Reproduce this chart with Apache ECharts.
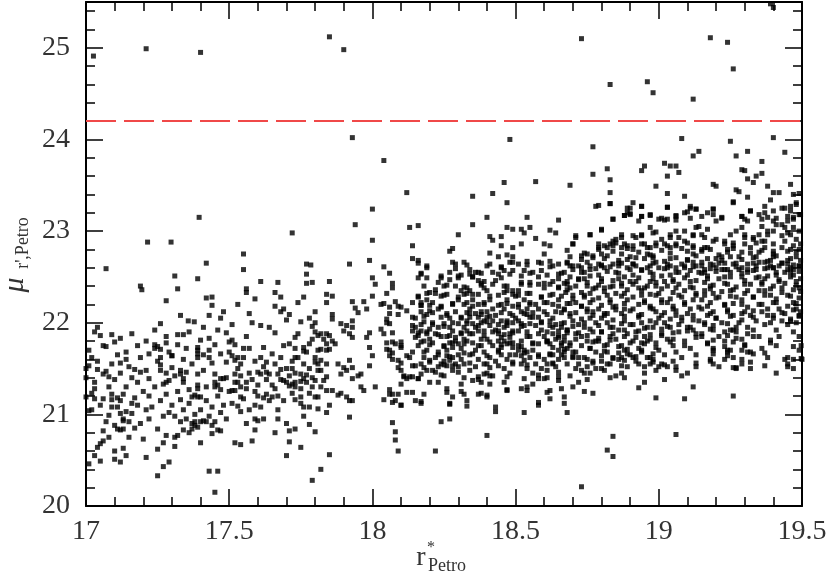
<!DOCTYPE html>
<html>
<head>
<meta charset="utf-8">
<title>mu vs r Petro</title>
<script src="https://cdn.jsdelivr.net/npm/echarts@6.0.0/dist/echarts.min.js"></script>
<style>
  html, body { margin: 0; padding: 0; background: #fff; }
  #chart { width: 830px; height: 574px; }
</style>
</head>
<body>
<div id="chart"></div>
<script>
// surface brightness cut
const cutLevel = 24.2;

// points above the cut
const faintOutliers = [
  [17.026,24.91],[17.21,24.99],[17.40,24.95],[17.85,25.12],[17.90,24.98],
  [18.73,25.10],[18.83,24.60],[18.96,24.63],[18.98,24.51],[19.12,24.44],
  [19.18,25.11],[19.24,25.06],[19.26,24.77],[19.40,25.44],[19.39,25.48]
];

// r* 17.0 - 17.8
const galaxiesLeft = [
  [17.395,23.15],[17.72,22.98],[17.215,22.88],[17.297,22.88],[17.55,22.75],[17.07,22.59],[17.42,22.65],[17.55,22.58],
  [17.77,22.64],[17.785,22.63],[17.77,22.53],[17.31,22.51],[17.39,22.48],[17.61,22.45],[17.67,22.44],[17.77,22.43],
  [17.79,22.44],[17.19,22.40],[17.195,22.36],[17.32,22.37],[17.56,22.37],[17.56,22.33],[17.66,22.33],[17.68,22.28],
  [17.28,22.24],[17.42,22.27],[17.44,22.28],[17.44,22.19],[17.59,22.26],[17.76,22.28],[17.53,22.20],[17.57,22.10],
  [17.68,22.12],[17.69,22.15],[17.70,22.03],[17.43,22.08],[17.47,22.05],[17.71,22.09],[17.80,22.12],[17.26,21.99],
  [17.357,22.02],[17.378,22.01],[17.75,22.01],[17.78,22.05],[17.51,21.98],[17.61,21.97],[17.03,21.90],[17.05,21.86],
  [17.09,21.87],[17.07,21.74],[17.10,21.79],[17.12,21.83],[17.21,21.80],[17.24,21.76],[17.25,21.74],[17.28,21.78],
  [17.32,21.87],[17.34,21.87],[17.32,21.76],[17.40,21.81],[17.43,21.83],[17.49,21.89],[17.45,21.76],[17.39,21.73],
  [17.39,21.70],[17.50,21.79],[17.51,21.81],[17.52,21.76],[17.55,21.72],[17.57,21.72],[17.62,21.73],[17.66,21.89],
  [17.71,21.77],[17.73,21.84],[17.73,21.72],[17.76,21.73],[17.76,21.69],[17.78,21.77],[17.79,21.96],[17.80,21.90],
  [17.81,21.86],[17.81,21.70],[17.22,21.66],[17.26,21.71],[17.24,21.72],[17.30,21.64],[17.26,21.62],[17.43,21.62],
  [17.44,21.56],[17.47,21.66],[17.50,21.68],[17.51,21.64],[17.52,21.59],[17.53,21.62],[17.54,21.55],[17.39,21.62],
  [17.39,21.66],[17.41,21.65],[17.34,21.60],[17.12,21.56],[17.14,21.60],[17.17,21.49],[17.19,21.46],[17.01,21.53],
  [17.00,21.50],[17.04,21.49],[17.07,21.47],[17.08,21.41],[17.03,21.35],[17.22,21.39],[17.26,21.54],[17.26,21.48],
  [17.28,21.45],[17.30,21.51],[17.30,21.64],[17.33,21.48],[17.33,21.44],[17.35,21.46],[17.28,21.35],[17.29,21.37],
  [17.34,21.35],[17.34,21.39],[17.36,21.27],[17.37,21.19],[17.39,21.44],[17.39,21.32],[17.38,21.21],[17.39,21.19],
  [17.40,21.19],[17.42,21.30],[17.45,21.35],[17.45,21.30],[17.46,21.32],[17.47,21.39],[17.48,21.39],[17.49,21.40],
  [17.52,21.44],[17.51,21.26],[17.52,21.26],[17.53,21.35],[17.54,21.30],[17.56,21.35],[17.54,21.19],[17.55,21.17],
  [17.54,21.03],[17.53,21.09],[17.60,21.46],[17.61,21.44],[17.63,21.46],[17.59,21.58],[17.63,21.57],[17.67,21.44],
  [17.68,21.38],[17.69,21.37],[17.68,21.49],[17.65,21.32],[17.66,21.28],[17.60,21.20],[17.62,21.18],[17.64,21.15],
  [17.65,21.19],[17.59,21.10],[17.72,21.50],[17.73,21.45],[17.75,21.44],[17.76,21.39],[17.77,21.43],[17.80,21.57],
  [17.81,21.48],[17.80,21.37],[17.70,21.35],[17.71,21.31],[17.72,21.33],[17.73,21.35],[17.75,21.36],[17.72,21.23],
  [17.73,21.16],[17.75,21.19],[17.75,21.12],[17.76,21.08],[17.78,21.23],[17.78,21.08],[17.79,21.30],[17.80,21.19],
  [17.81,21.19],[17.81,21.06],[17.00,21.40],[17.00,21.19],[17.03,21.17],[17.02,21.23],[17.06,21.17],[17.01,21.04],
  [17.02,21.05],[17.09,21.16],[17.09,21.08],[17.08,20.99],[17.11,21.08],[17.12,21.15],[17.12,21.01],[17.14,21.03],
  [17.16,21.12],[17.16,21.01],[17.13,20.95],[17.13,20.93],[17.15,20.92],[17.10,20.88],[17.11,20.84],[17.12,20.83],
  [17.13,20.84],[17.17,20.85],[17.19,20.90],[17.25,20.84],[17.33,20.92],[17.34,20.83],[17.32,20.77],[17.31,20.75],
  [17.37,20.90],[17.38,20.92],[17.38,20.88],[17.40,20.92],[17.37,20.84],[17.39,20.86],[17.41,20.93],[17.42,20.92],
  [17.08,20.75],[17.06,20.71],[17.05,20.68],[17.04,20.64],[17.03,20.55],[17.01,20.46],[17.05,20.49],[17.10,20.60],
  [17.13,20.63],[17.14,20.55],[17.10,20.51],[17.12,20.48],[17.20,20.73],[17.21,20.53],[17.25,20.62],[17.27,20.69],
  [17.28,20.77],[17.31,20.65],[17.27,20.43],[17.29,20.48],[17.25,20.33],[17.40,20.69],[17.44,20.79],[17.46,20.83],
  [17.47,20.82],[17.43,20.38],[17.46,20.38],[17.45,20.15],[17.52,20.69],[17.54,20.67],[17.58,20.71],[17.59,20.83],
  [17.59,20.95],[17.62,20.95],[17.60,20.93],[17.67,20.95],[17.70,20.90],[17.71,20.82],[17.73,20.84],[17.71,20.70],
  [17.75,20.64],[17.70,20.55],[17.78,20.89],[17.80,20.81],[17.79,20.28],[17.82,20.40],
  [17.02,21.62],[17.04,21.58],[17.06,21.44],[17.08,21.30],[17.10,21.38],[17.12,21.45],[17.14,21.30],[17.16,21.40],
  [17.18,21.35],[17.20,21.25],[17.22,21.20],[17.24,21.30],[17.26,21.15],[17.28,21.22],[17.30,21.10],[17.32,21.25],
  [17.34,21.05],[17.36,21.12],[17.38,21.00],[17.40,21.05],[17.42,21.15],[17.44,21.08],[17.46,21.20],[17.48,21.10],
  [17.50,21.25],[17.52,21.35],[17.54,21.42],[17.56,21.28],[17.58,21.38],[17.60,21.32],[17.62,21.52],[17.64,21.44],
  [17.66,21.55],[17.68,21.62],[17.70,21.50],[17.72,21.58],[17.74,21.62],[17.76,21.55],[17.78,21.50],[17.80,21.62],
  [17.09,21.22],[17.11,21.18],[17.18,21.10],[17.21,21.05],[17.27,20.98],[17.29,21.02],[17.31,20.98],[17.35,20.95],
  [17.43,20.98],[17.45,20.92],[17.47,21.02],[17.49,20.95],[17.57,21.05],[17.61,21.08],[17.63,21.22],[17.67,21.05],
  [17.69,21.15],[17.73,21.30],[17.77,21.35],[17.79,21.40],[17.06,21.75],[17.14,21.68],[17.18,21.75],[17.28,21.85],
  [17.36,21.90],[17.46,21.92],[17.56,21.85],[17.64,21.95],[17.74,21.88],[17.80,22.00],
  [17.01,21.70],[17.03,21.28],[17.05,21.10],[17.07,20.92],[17.09,21.55],[17.11,21.65],[17.13,21.22],[17.15,21.52],
  [17.17,21.18],[17.19,21.62],[17.21,21.48],[17.23,21.08],[17.25,21.58],[17.27,21.33],[17.29,21.68],[17.31,21.42],
  [17.33,21.16],[17.35,21.72],[17.37,21.55],[17.39,21.28],[17.41,21.48],[17.43,21.70],[17.45,21.44],[17.47,21.27],
  [17.49,21.57],[17.51,21.12],[17.53,21.50],[17.55,21.62],[17.57,21.45],[17.59,21.25],[17.61,21.62],[17.63,21.38],
  [17.65,21.66],[17.67,21.20],[17.69,21.75],[17.71,21.42],[17.73,21.62],[17.75,21.28],[17.77,21.68],[17.79,21.82],
  [17.81,21.55],[17.04,21.95],[17.16,21.88],[17.24,21.92],[17.33,22.08],[17.41,21.95],[17.48,22.12],[17.58,22.00],
  [17.66,22.18],[17.74,22.22],[17.22,20.95],[17.36,20.80],[17.44,20.88],[17.56,20.90],[17.66,20.80],[17.76,20.98],
  [17.15,20.75],[17.06,20.82]
];

// r* 17.8 - 18.66
const galaxiesMid = [
  [17.93,24.02],[18.48,24.00],[18.04,23.77],[18.46,23.53],[18.57,23.54],[18.12,23.42],[18.42,23.41],[18.35,23.38],
  [18.47,23.31],[18.00,23.24],[18.40,23.15],[18.54,23.15],[17.94,23.07],[18.13,23.04],[18.16,23.06],[18.35,23.07],
  [18.47,23.04],[18.49,23.02],[18.55,23.04],[18.52,23.02],[18.53,22.98],[18.62,23.01],[18.64,22.98],[18.65,23.12],
  [18.30,22.96],[18.00,22.90],[18.41,22.94],[18.42,22.90],[18.45,22.94],[18.14,22.84],[18.45,22.84],[18.49,22.82],
  [18.52,22.86],[18.57,22.92],[18.60,22.86],[18.62,22.84],[18.27,22.78],[18.28,22.81],[18.41,22.76],[18.44,22.72],
  [18.47,22.74],[18.49,22.72],[18.60,22.75],[18.62,22.67],[18.65,22.64],[17.99,22.68],[17.92,22.64],[18.14,22.70],
  [18.16,22.68],[18.32,22.66],[18.29,22.64],[18.29,22.59],[18.48,22.66],[18.51,22.64],[18.54,22.67],[18.58,22.66],
  [18.04,22.61],[18.06,22.54],[18.19,22.60],[18.17,22.53],[18.16,22.49],[18.19,22.49],[18.34,22.58],[18.36,22.55],
  [18.34,22.53],[18.45,22.60],[18.46,22.57],[18.45,22.49],[18.48,22.53],[18.49,22.57],[18.53,22.57],[18.55,22.54],
  [18.59,22.57],[18.62,22.61],[18.65,22.53],[18.00,22.49],[18.01,22.42],[17.85,22.45],[18.24,22.49],[18.27,22.47],
  [18.30,22.51],[18.30,22.49],[18.37,22.46],[18.38,22.41],[18.39,22.38],[18.40,22.35],[18.43,22.46],[18.46,22.40],
  [18.49,22.35],[18.49,22.31],[18.50,22.29],[18.52,22.42],[18.55,22.44],[18.58,22.42],[18.60,22.38],[18.62,22.42],
  [18.65,22.38],[18.07,22.38],[18.22,22.36],[18.24,22.29],[18.26,22.31],[18.19,22.32],[18.16,22.28],[18.17,22.19],
  [18.33,22.38],[18.34,22.35],[18.32,22.31],[18.35,22.31],[17.84,22.31],[17.86,22.29],[17.84,22.22],[18.00,22.29],
  [17.93,22.23],[17.97,22.23],[17.94,22.16],[17.95,22.11],[17.98,22.15],[18.03,22.20],[18.06,22.17],[18.08,22.23],
  [18.10,22.17],[18.09,22.09],[17.86,22.09],[17.86,22.04],[17.89,21.99],[17.91,21.97],[17.90,21.91],[17.93,22.02],
  [17.93,21.95],[17.92,21.88],[17.93,21.84],[17.82,21.88],[17.84,21.88],[17.85,21.86],[17.83,21.82],[17.84,21.77],
  [17.86,21.80],[17.87,21.77],[17.82,21.71],[17.84,21.70],[17.85,21.71],[17.99,21.89],[17.98,21.84],[17.99,21.73],
  [18.03,21.93],[18.04,21.88],[18.05,22.04],[18.06,21.99],[18.07,21.79],[18.08,21.77],[18.10,21.79],[18.10,21.73],
  [18.06,21.70],[18.12,22.13],[18.14,22.06],[18.17,22.19],[18.19,22.09],[18.20,22.13],[18.23,22.15],[18.24,22.06],
  [18.21,22.00],[18.14,21.91],[18.16,21.89],[18.15,21.84],[18.17,21.91],[18.19,21.88],[18.20,21.82],[18.25,21.99],
  [18.27,21.95],[18.30,21.99],[18.28,21.91],[18.31,21.88],[18.32,21.95],[18.33,21.91],[18.29,21.84],[18.30,21.77],
  [18.28,21.73],[18.26,21.70],[18.26,21.64],[18.27,21.59],[18.24,21.55],[18.26,21.53],[18.28,21.53],[18.29,21.55],
  [18.30,21.46],[18.25,21.42],[18.33,22.11],[18.34,22.06],[18.35,21.99],[18.37,22.06],[18.38,22.00],[18.39,21.91],
  [18.37,21.91],[18.35,21.88],[18.40,22.06],[18.42,22.02],[18.44,21.91],[18.45,21.84],[18.46,21.95],[18.47,22.02],
  [18.49,22.00],[18.49,21.91],[18.48,21.84],[18.51,21.91],[18.52,21.99],[18.54,22.09],[18.55,22.06],[18.56,22.11],
  [18.58,22.06],[18.59,22.00],[18.62,22.02],[18.63,21.95],[18.65,21.91],[18.65,21.84],[18.44,21.80],[18.45,21.73],
  [18.47,21.77],[18.49,21.73],[18.51,21.70],[18.52,21.64],[18.53,21.59],[18.54,21.68],[18.56,21.70],[18.58,21.77],
  [18.61,21.80],[18.62,21.77],[18.63,21.73],[18.65,21.70],[18.63,21.55],[18.65,21.46],[18.65,21.41],[17.82,21.59],
  [17.84,21.55],[17.82,21.48],[17.84,21.41],[17.83,21.37],[17.82,21.30],[17.84,21.26],[17.86,21.26],[17.88,21.55],
  [17.90,21.51],[17.91,21.48],[17.89,21.44],[17.92,21.59],[17.93,21.51],[17.95,21.42],[17.93,21.39],[17.96,21.44],
  [17.96,21.30],[17.97,21.26],[17.99,21.53],[18.00,21.64],[18.01,21.30],[17.88,21.21],[17.89,21.23],[17.91,21.19],
  [17.92,21.15],[17.93,21.15],[17.85,21.10],[17.84,21.02],[17.92,20.97],[18.05,21.71],[18.06,21.64],[18.07,21.60],
  [18.09,21.59],[18.09,21.51],[18.10,21.48],[18.11,21.41],[18.12,21.39],[18.13,21.41],[18.10,21.33],[18.13,21.62],
  [18.15,21.53],[18.17,21.55],[18.14,21.41],[18.16,21.39],[18.17,21.44],[18.18,21.51],[18.19,21.48],[18.06,21.22],
  [18.07,21.22],[18.09,21.22],[18.08,21.15],[18.10,21.10],[18.04,21.16],[18.12,21.24],[18.15,21.15],[18.17,21.12],
  [18.18,21.22],[18.20,21.59],[18.21,21.48],[18.22,21.46],[18.23,21.35],[18.20,21.35],[18.26,21.24],[18.28,21.19],
  [18.27,21.12],[18.31,21.33],[18.32,21.22],[18.33,21.15],[18.35,21.37],[18.37,21.41],[18.38,21.35],[18.37,21.22],
  [18.40,21.21],[18.40,21.19],[18.41,21.33],[18.39,21.44],[18.40,21.55],[18.41,21.51],[18.46,21.35],[18.47,21.26],
  [18.52,21.28],[18.54,21.30],[18.56,21.33],[18.58,21.10],[18.58,21.39],[18.60,21.39],[18.62,21.26],[18.62,21.17],
  [18.65,21.37],[18.43,21.08],[18.43,21.03],[18.53,21.02],[18.07,20.91],[18.08,20.81],[18.08,20.72],[18.09,20.60],
  [18.24,20.92],[18.27,20.95],[18.40,20.77],[18.22,20.60],[17.85,20.56],
  [18.15,22.05],[18.17,21.98],[18.18,21.80],[18.16,21.75],[18.19,21.70],[18.14,21.68],[18.18,21.62],[18.15,21.95],
  [18.20,21.93],[18.17,22.12],[18.19,22.25],[18.14,22.22],[18.21,22.22],[18.23,21.95],[18.22,21.88],[18.24,21.85],
  [18.21,21.78],[18.25,21.75],[18.23,21.68],[18.22,21.62],[18.25,21.58],[18.24,22.18],[18.26,22.10],[18.22,22.32],
  [18.25,22.40],[18.23,21.52],[18.27,22.05],[18.28,22.20],[18.29,22.12],[18.30,22.25],[18.31,22.05],[18.27,21.86],
  [18.29,21.80],[18.31,21.72],[18.30,21.65],[18.28,21.62],[18.32,21.82],[18.31,21.60],[18.27,21.78],[18.29,22.40],
  [18.31,22.35],[18.28,21.48],[18.32,21.55],[18.33,22.22],[18.34,22.15],[18.35,22.25],[18.36,22.10],[18.37,22.20],
  [18.38,22.12],[18.33,21.80],[18.35,21.78],[18.36,21.70],[18.34,21.65],[18.37,21.60],[18.38,21.75],[18.36,21.52],
  [18.34,21.48],[18.38,21.82],[18.33,22.02],[18.36,21.95],[18.35,22.50],[18.37,22.55],[18.39,22.20],[18.40,22.12],
  [18.41,22.25],[18.42,22.15],[18.43,22.08],[18.39,22.02],[18.41,21.97],[18.43,21.92],[18.40,21.82],[18.42,21.75],
  [18.44,21.70],[18.39,21.68],[18.41,21.62],[18.43,21.58],[18.40,21.45],[18.42,21.42],[18.44,22.30],[18.39,22.45],
  [18.42,22.55],[18.40,22.62],[18.45,22.20],[18.46,22.15],[18.47,22.25],[18.48,22.10],[18.49,22.18],[18.45,22.02],
  [18.47,21.97],[18.48,21.88],[18.46,21.80],[18.49,21.78],[18.45,21.65],[18.47,21.60],[18.49,21.55],[18.46,21.50],
  [18.48,21.45],[18.50,22.05],[18.44,21.88],[18.50,21.65],[18.47,22.35],[18.51,22.20],[18.52,22.12],[18.53,22.25],
  [18.54,22.15],[18.55,22.22],[18.51,22.02],[18.53,21.97],[18.54,21.90],[18.55,21.85],[18.52,21.80],[18.56,21.78],
  [18.51,21.75],[18.53,21.70],[18.55,21.62],[18.52,21.55],[18.54,21.50],[18.56,21.45],[18.51,22.35],[18.55,22.32],
  [18.57,22.20],[18.58,22.15],[18.59,22.28],[18.60,22.12],[18.61,22.22],[18.57,21.97],[18.59,21.92],[18.60,21.85],
  [18.61,21.80],[18.58,21.65],[18.60,21.60],[18.62,21.65],[18.57,21.55],[18.59,21.50],[18.61,21.48],[18.62,22.30],
  [18.58,22.50],[18.61,21.55],[18.63,22.20],[18.64,22.12],[18.65,22.25],[18.63,22.05],[18.64,21.98],[18.66,21.95],
  [18.63,21.88],[18.64,21.82],[18.66,21.78],[18.63,21.65],[18.65,21.60],[18.64,21.52],[18.66,21.65],[18.63,22.45],
  [18.65,22.48]
];

// extra reading of the crowded middle of the band
const crowdedMid = [
  [18.16,22.65],[18.19,22.62],[18.28,22.66],[18.33,22.63],[18.41,22.64],[18.45,22.61],[18.49,22.66],[18.54,22.63],
  [18.59,22.65],[18.63,22.62],[18.17,22.54],[18.24,22.51],[18.27,22.55],[18.31,22.52],[18.35,22.50],[18.38,22.54],
  [18.44,22.53],[18.52,22.51],[18.56,22.55],[18.61,22.52],[18.66,22.54],[18.07,22.43],[18.18,22.40],[18.23,22.44],
  [18.26,22.41],[18.32,22.39],[18.38,22.43],[18.42,22.42],[18.47,22.40],[18.52,22.44],[18.55,22.41],[18.60,22.43],
  [18.65,22.39],[18.68,22.42],[18.05,22.32],[18.16,22.29],[18.20,22.33],[18.25,22.30],[18.30,22.28],[18.33,22.32],
  [18.37,22.31],[18.41,22.29],[18.46,22.33],[18.51,22.30],[18.54,22.32],[18.59,22.28],[18.63,22.31],[18.675,22.33],
  [18.04,22.21],[18.09,22.18],[18.17,22.22],[18.20,22.19],[18.24,22.17],[18.28,22.21],[18.32,22.20],[18.35,22.18],
  [18.39,22.22],[18.44,22.19],[18.47,22.21],[18.51,22.17],[18.55,22.20],[18.60,22.22],[18.65,22.18],[18.68,22.21],
  [18.06,22.10],[18.18,22.07],[18.21,22.11],[18.26,22.08],[18.31,22.06],[18.34,22.10],[18.38,22.09],[18.41,22.07],
  [18.45,22.11],[18.49,22.08],[18.53,22.10],[18.56,22.06],[18.61,22.09],[18.66,22.11],[18.05,22.00],[18.14,21.97],
  [18.18,22.01],[18.21,21.98],[18.25,21.96],[18.28,22.00],[18.33,21.99],[18.37,21.97],[18.40,22.01],[18.44,21.98],
  [18.47,22.00],[18.52,21.96],[18.55,21.99],[18.59,22.01],[18.62,21.97],[18.67,22.00],[18.07,21.89],[18.16,21.86],
  [18.19,21.90],[18.23,21.87],[18.26,21.85],[18.31,21.89],[18.34,21.88],[18.39,21.86],[18.42,21.90],[18.46,21.87],
  [18.49,21.89],[18.54,21.85],[18.58,21.88],[18.61,21.90],[18.65,21.86],[18.68,21.89],[18.05,21.78],[18.10,21.75],
  [18.17,21.79],[18.20,21.76],[18.25,21.74],[18.28,21.78],[18.32,21.77],[18.37,21.75],[18.41,21.79],[18.45,21.76],
  [18.48,21.78],[18.52,21.74],[18.56,21.77],[18.61,21.79],[18.66,21.75],[18.07,21.67],[18.12,21.64],[18.18,21.68],
  [18.23,21.65],[18.27,21.63],[18.32,21.67],[18.35,21.66],[18.40,21.64],[18.44,21.68],[18.48,21.65],[18.53,21.67],
  [18.58,21.63],[18.62,21.66],[18.67,21.68],[18.10,21.56],[18.14,21.53],[18.20,21.57],[18.25,21.54],[18.30,21.52],
  [18.34,21.56],[18.39,21.55],[18.44,21.53],[18.49,21.57],[18.54,21.54],[18.63,21.56],[18.11,21.42],[18.16,21.39],
  [18.24,21.43],[18.32,21.40],[18.37,21.38],[18.41,21.42],[18.47,21.41],[18.53,21.39],[18.58,21.43],[18.61,21.40],
  [18.06,21.27],[18.14,21.24],[18.26,21.28],[18.31,21.25],[18.38,21.23],[18.47,21.27],[18.54,21.26],[18.61,21.24],
  [18.66,21.28],[18.07,21.13],[18.10,21.10],[18.17,21.14],[18.27,21.11],[18.33,21.09],[18.58,21.13],[18.67,21.12]
];

// r* 18.66 - 19.5
const galaxiesRight = [
  [19.08,24.01],[19.40,24.02],[19.25,23.98],[18.77,23.92],[19.14,23.87],[19.12,23.82],[19.27,23.82],[19.31,23.87],
  [19.44,23.86],[19.36,23.76],[18.82,23.68],[18.95,23.71],[18.94,23.66],[19.02,23.74],[19.04,23.71],[19.06,23.71],
  [19.07,23.64],[19.03,23.60],[19.29,23.67],[19.30,23.66],[19.34,23.60],[19.36,23.63],[19.33,23.53],[19.31,23.57],
  [18.77,23.62],[18.83,23.56],[18.69,23.50],[18.99,23.49],[19.19,23.51],[19.20,23.49],[19.38,23.49],[19.40,23.42],
  [19.42,23.42],[19.46,23.51],[19.47,23.40],[19.49,23.41],[18.83,23.42],[19.03,23.41],[19.09,23.38],[19.27,23.45],
  [19.28,23.43],[19.31,23.37],[19.39,23.34],[19.44,23.25],[19.46,23.27],[19.48,23.31],[18.83,23.30],[18.78,23.27],
  [18.91,23.31],[18.94,23.27],[18.90,23.25],[18.89,23.20],[18.90,23.18],[19.03,23.26],[19.06,23.17],[19.11,23.27],
  [19.13,23.24],[19.10,23.21],[19.19,23.24],[19.19,23.18],[19.22,23.15],[19.20,23.11],[19.26,23.32],[19.29,23.16],
  [19.30,23.13],[19.32,23.22],[19.37,23.20],[19.38,23.15],[19.40,23.11],[19.43,23.07],[19.45,23.11],[19.47,23.15],
  [19.49,23.18],[18.84,23.13],[18.88,23.17],[18.93,23.11],[18.94,23.16],[18.97,23.17],[19.00,23.13],[19.02,23.12],
  [19.06,23.12],[18.80,23.02],[18.71,22.93],[18.70,22.86],[18.76,22.96],[18.87,22.93],[18.85,22.91],[18.92,22.93],
  [18.94,22.95],[18.97,23.04],[18.99,22.99],[19.04,22.93],[19.06,23.00],[19.09,22.89],[19.12,22.95],[19.14,23.05],
  [19.15,22.96],[19.17,23.02],[19.20,22.91],[19.23,22.89],[19.25,22.96],[19.27,23.00],[19.30,22.93],[19.33,22.91],
  [19.35,22.96],[19.36,22.89],[19.38,22.96],[19.40,23.00],[19.43,22.95],[19.45,22.98],[19.47,23.04],[19.49,23.00],
  [18.79,22.82],[18.81,22.84],[18.83,22.86],[18.85,22.87],[18.87,22.82],[18.89,22.84],[18.91,22.80],[18.95,22.86],
  [18.97,22.82],[18.99,22.84],[19.02,22.86],[19.04,22.82],[19.06,22.84],[19.10,22.78],[19.12,22.82],[19.15,22.80],
  [19.17,22.82],[19.24,22.80],[19.26,22.84],[19.29,22.77],[19.32,22.82],[19.35,22.77],[19.37,22.82],[19.40,22.78],
  [19.43,22.82],[19.46,22.80],[19.48,22.77],[18.73,22.73],[18.75,22.75],[18.77,22.71],[18.82,22.73],[18.87,22.75],
  [18.89,22.69],[18.92,22.71],[18.96,22.75],[18.98,22.71],[18.68,22.66],[18.69,22.62],[18.73,22.60],[18.76,22.58],
  [18.79,22.64],[18.81,22.60],[18.84,22.64],[18.86,22.62],[18.89,22.60],[18.91,22.64],[18.94,22.58],[18.97,22.62],
  [19.00,22.60],[19.03,22.64],[19.06,22.60],[19.09,22.62],[19.12,22.66],[19.13,22.62],[19.16,22.58],[19.18,22.64],
  [19.20,22.60],[19.23,22.58],[19.26,22.64],[19.29,22.60],[19.31,22.58],[19.34,22.62],[19.37,22.66],[19.40,22.60],
  [19.42,22.62],[19.45,22.64],[19.47,22.58],[19.49,22.62],
  [18.67,22.55],[18.68,22.45],[18.69,22.38],[18.70,22.30],[18.71,22.22],[18.67,22.15],[18.69,22.10],[18.70,22.02],
  [18.72,21.98],[18.68,21.92],[18.71,21.88],[18.67,21.80],[18.69,21.75],[18.70,21.68],[18.72,21.62],[18.68,21.55],
  [18.71,21.50],[18.69,21.42],[18.72,21.35],[18.70,22.62],[18.72,22.48],[18.67,21.62],[18.73,22.55],[18.74,22.48],
  [18.75,22.40],[18.76,22.32],[18.77,22.25],[18.73,22.18],[18.75,22.12],[18.76,22.05],[18.78,22.00],[18.74,21.95],
  [18.77,21.90],[18.73,21.85],[18.75,21.80],[18.76,21.72],[18.78,21.68],[18.74,21.62],[18.77,21.58],[18.75,21.52],
  [18.73,21.48],[18.78,22.38],[18.76,22.62],[18.74,22.28],[18.78,21.80],[18.79,22.52],[18.80,22.45],[18.81,22.38],
  [18.82,22.30],[18.83,22.22],[18.79,22.15],[18.81,22.08],[18.82,22.00],[18.84,21.95],[18.80,21.90],[18.83,21.85],
  [18.79,21.80],[18.81,21.75],[18.82,21.68],[18.84,21.62],[18.80,21.58],[18.83,21.55],[18.81,21.48],[18.84,22.40],
  [18.80,22.62],[18.82,22.10],[18.85,22.55],[18.86,22.48],[18.87,22.40],[18.88,22.32],[18.89,22.25],[18.85,22.18],
  [18.87,22.10],[18.88,22.02],[18.90,21.98],[18.86,21.92],[18.89,21.88],[18.85,21.82],[18.87,21.75],[18.88,21.70],
  [18.90,21.65],[18.86,21.60],[18.89,21.52],[18.87,21.45],[18.90,22.45],[18.86,22.65],[18.88,22.15],[18.91,22.52],
  [18.92,22.45],[18.93,22.38],[18.94,22.30],[18.95,22.22],[18.91,22.15],[18.93,22.08],[18.94,22.00],[18.96,21.95],
  [18.92,21.90],[18.95,21.85],[18.91,21.80],[18.93,21.72],[18.94,21.68],[18.96,21.62],[18.92,21.58],[18.95,21.52],
  [18.96,22.40],[18.92,22.62],[18.94,21.78],[18.97,22.55],[18.98,22.48],[18.99,22.40],[19.00,22.32],[19.01,22.25],
  [18.97,22.18],[18.99,22.12],[19.00,22.05],[19.02,22.00],[18.98,21.95],[19.01,21.88],[18.97,21.82],[18.99,21.78],
  [19.00,21.70],[19.02,21.65],[18.98,21.60],[19.01,21.55],[19.02,22.45],[18.98,22.65],
  [19.03,22.60],[19.04,22.52],[19.05,22.45],[19.06,22.38],[19.07,22.30],[19.03,22.22],[19.05,22.15],[19.06,22.08],
  [19.08,22.02],[19.04,21.95],[19.07,21.90],[19.03,21.82],[19.05,21.75],[19.06,21.68],[19.08,21.62],[19.04,22.70],
  [19.07,22.55],[19.05,21.58],[19.09,22.60],[19.10,22.52],[19.11,22.45],[19.12,22.38],[19.13,22.30],[19.09,22.22],
  [19.11,22.15],[19.12,22.08],[19.14,22.02],[19.10,21.95],[19.13,21.88],[19.09,21.80],[19.11,21.72],[19.13,21.65],
  [19.10,22.68],[19.14,22.55],[19.12,21.92],[19.15,22.62],[19.16,22.55],[19.17,22.48],[19.18,22.40],[19.19,22.32],
  [19.15,22.25],[19.17,22.18],[19.18,22.10],[19.20,22.05],[19.16,21.98],[19.19,21.92],[19.15,21.85],[19.17,21.78],
  [19.18,21.60],[19.20,22.70],[19.16,22.35],[19.19,21.70],[19.21,22.65],[19.22,22.58],[19.23,22.50],[19.24,22.42],
  [19.25,22.35],[19.21,22.28],[19.23,22.20],[19.24,22.12],[19.26,22.08],[19.22,22.00],[19.25,21.92],[19.21,21.85],
  [19.23,21.80],[19.24,21.70],[19.26,21.62],[19.22,22.72],[19.25,22.55],[19.27,22.65],[19.28,22.58],[19.29,22.50],
  [19.30,22.42],[19.31,22.35],[19.27,22.28],[19.29,22.20],[19.30,22.12],[19.32,22.08],[19.28,22.00],[19.31,21.95],
  [19.27,21.90],[19.29,21.82],[19.30,21.75],[19.32,21.68],[19.28,22.72],[19.31,22.55],[19.29,21.60],[19.33,22.65],
  [19.34,22.58],[19.35,22.50],[19.36,22.42],[19.37,22.35],[19.33,22.28],[19.35,22.20],[19.36,22.12],[19.38,22.08],
  [19.34,22.02],[19.37,21.98],[19.33,21.92],[19.35,21.85],[19.36,21.72],[19.38,22.60],[19.34,22.72],[19.37,22.48],
  [19.39,22.68],[19.40,22.60],[19.41,22.52],[19.42,22.45],[19.43,22.38],[19.39,22.30],[19.41,22.22],[19.42,22.15],
  [19.44,22.10],[19.40,22.05],[19.43,22.02],[19.39,22.00],[19.41,21.92],[19.42,21.85],[19.44,22.55],[19.40,22.72],
  [19.43,22.65],[19.45,22.68],[19.46,22.60],[19.47,22.52],[19.48,22.45],[19.49,22.38],[19.45,22.30],[19.47,22.22],
  [19.48,22.15],[19.49,22.08],[19.46,22.02],[19.48,22.00],[19.45,21.98],[19.47,21.90],[19.49,21.85],[19.46,22.55],
  [19.48,22.72],[19.49,22.62],[19.49,21.70],[19.50,21.60],[19.45,21.62],[19.497,21.75],[19.497,21.61],
  [18.68,21.72],[18.70,21.62],[18.72,21.55],[18.74,21.45],[18.76,21.45],[18.78,21.50],[18.80,21.50],[18.82,21.55],
  [18.83,21.40],[18.85,21.42],[18.87,21.62],[18.89,21.66],[18.91,21.62],[18.93,21.55],[18.95,21.45],[18.97,21.55],
  [18.99,21.48],[19.00,21.52],[19.03,21.52],[19.06,21.48],[19.08,21.42],[19.10,21.45],[19.13,21.52],[19.19,21.66],
  [19.21,21.52],[19.23,21.60],[19.25,21.70],[19.27,21.50],[19.29,21.55],[19.31,21.68],[19.33,21.66],[19.38,21.62],
  [19.41,21.75],[19.45,21.52],[19.47,21.50],
  [18.67,21.19],[18.68,21.02],[18.74,21.25],[18.77,21.23],[18.93,21.29],[18.99,21.18],[19.09,21.17],[19.26,21.20],
  [19.27,21.51],[19.32,21.50],[18.82,20.61],[18.84,20.76],[18.84,20.54],[19.06,20.78],[18.73,20.21],[19.44,21.60],
  [19.41,21.45],[18.70,21.30],[18.75,21.38],[18.88,21.40],[18.95,21.35],[19.02,21.38],[19.12,21.30]
];

// extra reading of the crowded right end of the band
const crowdedRight = [
  [18.79,23.28],[18.83,23.30],[18.89,23.25],[18.94,23.27],[19.03,23.26],[19.11,23.25],[19.13,23.24],[19.19,23.24],
  [19.26,23.31],[19.32,23.22],[19.37,23.27],[19.40,23.22],[19.43,23.25],[19.46,23.22],[19.48,23.29],[18.84,23.13],
  [18.88,23.17],[18.90,23.19],[18.94,23.16],[18.97,23.18],[19.01,23.14],[19.03,23.13],[19.06,23.16],[19.09,23.20],
  [19.11,23.14],[19.15,23.16],[19.17,23.20],[19.22,23.14],[19.29,23.16],[19.31,23.11],[19.35,23.18],[19.36,23.13],
  [19.41,23.14],[19.45,23.16],[19.47,23.13],[19.495,23.18],
  [18.71,22.95],[18.70,22.86],[18.76,22.96],[18.80,23.01],[18.84,22.89],[18.87,22.96],[18.91,22.95],[18.94,22.96],
  [18.98,22.98],[19.01,22.91],[19.04,22.96],[19.07,22.93],[19.09,23.00],[19.12,22.96],[19.13,23.04],[19.16,22.93],
  [19.19,22.89],[19.23,22.86],[19.26,22.87],[19.29,23.04],[19.30,22.96],[19.33,22.93],[19.36,23.05],[19.38,23.00],
  [19.41,23.07],[19.44,23.04],[19.46,22.96],[19.48,22.91],[19.495,22.86],[18.79,22.86],[18.82,22.82],[18.84,22.84],
  [18.88,22.86],[18.91,22.84],[18.94,22.86],[18.96,22.82],[18.99,22.87],[19.03,22.84],[19.06,22.86],[19.10,22.87],
  [19.12,22.84],[19.16,22.82],[19.30,22.86],[19.34,22.87],[19.37,22.89],[19.40,22.86],[19.44,22.89],[19.47,22.84],
  [18.68,22.79],[18.74,22.76],[18.79,22.80],[18.80,22.75],[18.84,22.78],[18.89,22.81],[18.93,22.77],[18.97,22.74],
  [19.01,22.79],[19.04,22.76],[19.08,22.81],[19.12,22.75],[19.15,22.78],[19.18,22.80],[19.21,22.74],[19.24,22.77],
  [19.26,22.81],[19.32,22.76],[19.36,22.79],[19.40,22.75],[19.45,22.78],[19.49,22.80],
  [18.69,22.72],[18.73,22.69],[18.77,22.73],[18.81,22.70],[18.86,22.68],[18.90,22.72],[18.95,22.70],[18.98,22.73],
  [19.02,22.67],[19.06,22.71],[19.10,22.69],[19.13,22.73],[19.17,22.70],[19.22,22.68],[19.25,22.72],[19.29,22.69],
  [19.33,22.71],[19.38,22.67],[19.41,22.73],[19.46,22.70],[19.495,22.68],
  [18.68,22.65],[18.72,22.62],[18.75,22.66],[18.80,22.63],[18.83,22.61],[18.87,22.65],[18.91,22.64],[18.96,22.60],
  [18.99,22.66],[19.04,22.62],[19.08,22.64],[19.12,22.61],[19.15,22.66],[19.19,22.63],[19.23,22.65],[19.27,22.61],
  [19.31,22.64],[19.35,22.66],[19.39,22.62],[19.43,22.65],[19.47,22.63],
  [18.70,22.58],[18.74,22.55],[18.78,22.59],[18.82,22.56],[18.86,22.54],[18.90,22.58],[18.94,22.57],[18.98,22.53],
  [19.02,22.59],[19.06,22.55],[19.11,22.57],[19.15,22.54],[19.18,22.59],[19.20,22.56],[19.24,22.58],[19.29,22.54],
  [19.33,22.57],[19.37,22.59],[19.41,22.55],[19.45,22.58],[19.49,22.56],
  [18.69,22.50],[18.72,22.47],[18.76,22.51],[18.80,22.48],[18.84,22.46],[18.88,22.50],[18.93,22.49],[18.97,22.45],
  [19.01,22.51],[19.05,22.47],[19.09,22.49],[19.13,22.46],[19.17,22.51],[19.21,22.48],[19.25,22.50],[19.30,22.46],
  [19.34,22.49],[19.38,22.51],[19.42,22.47],[19.46,22.50],[19.495,22.48],
  [18.67,22.43],[18.71,22.40],[18.75,22.44],[18.79,22.41],[18.83,22.39],[18.87,22.43],[18.91,22.42],[18.95,22.38],
  [18.99,22.44],[19.03,22.40],[19.07,22.42],[19.11,22.39],[19.16,22.44],[19.19,22.41],[19.23,22.43],[19.27,22.39],
  [19.32,22.42],[19.36,22.44],[19.40,22.40],[19.44,22.43],[19.48,22.41],
  [18.68,22.36],[18.73,22.33],[18.77,22.37],[18.81,22.34],[18.85,22.32],[18.89,22.36],[18.94,22.35],[18.97,22.31],
  [19.01,22.37],[19.05,22.33],[19.09,22.35],[19.13,22.32],[19.18,22.37],[19.22,22.34],[19.26,22.36],[19.30,22.32],
  [19.35,22.35],[19.39,22.37],[19.43,22.33],[19.47,22.36],[19.495,22.34],
  [18.66,22.29],[18.70,22.26],[18.74,22.30],[18.79,22.27],[18.83,22.25],[18.87,22.29],[18.91,22.28],[18.95,22.24],
  [18.99,22.30],[19.04,22.26],[19.08,22.28],[19.12,22.25],[19.16,22.30],[19.20,22.27],[19.25,22.29],[19.29,22.25],
  [19.33,22.28],[19.37,22.30],[19.41,22.26],[19.46,22.29],[19.49,22.27],
  [18.69,22.21],[18.73,22.18],[18.76,22.22],[18.80,22.19],[18.84,22.17],[18.88,22.21],[18.93,22.20],[18.97,22.16],
  [19.01,22.22],[19.05,22.18],[19.09,22.20],[19.14,22.17],[19.18,22.22],[19.23,22.19],[19.26,22.21],[19.31,22.17],
  [19.36,22.20],[19.40,22.22],[19.45,22.18],[19.48,22.21],
  [18.67,22.14],[18.71,22.11],[18.75,22.15],[18.77,22.12],[18.81,22.10],[18.85,22.14],[18.90,22.13],[18.94,22.09],
  [18.98,22.15],[19.02,22.11],[19.06,22.13],[19.10,22.10],[19.15,22.15],[19.19,22.12],[19.24,22.14],[19.29,22.10],
  [19.33,22.13],[19.38,22.15],[19.43,22.11],[19.47,22.14],[19.495,22.12],
  [18.69,22.07],[18.73,22.04],[18.77,22.08],[18.80,22.05],[18.84,22.03],[18.88,22.07],[18.93,22.06],[18.97,22.02],
  [19.01,22.08],[19.04,22.04],[19.08,22.06],[19.12,22.03],[19.17,22.08],[19.20,22.05],[19.25,22.07],[19.29,22.03],
  [19.33,22.06],[19.40,22.08],[19.46,22.04],[19.49,22.07],
  [18.66,21.99],[18.70,21.96],[18.74,22.00],[18.79,21.97],[18.83,21.95],[18.87,21.99],[18.91,21.98],[18.95,21.94],
  [18.99,22.00],[19.03,21.96],[19.07,21.98],[19.11,21.95],[19.16,22.00],[19.19,21.97],[19.24,21.99],[19.27,21.95],
  [18.68,21.92],[18.72,21.89],[18.76,21.93],[18.80,21.90],[18.84,21.88],[18.88,21.92],[18.93,21.91],[18.97,21.87],
  [19.01,21.93],[19.05,21.89],[19.10,21.91],[19.15,21.88],[19.18,21.93],[19.23,21.90],[19.26,21.92],[19.31,21.88],
  [18.67,21.85],[18.71,21.82],[18.75,21.86],[18.79,21.83],[18.83,21.81],[18.88,21.85],[18.92,21.84],[18.96,21.80],
  [19.01,21.86],[19.05,21.82],[19.13,21.84],[19.19,21.81],[19.24,21.86],[19.27,21.83],[19.33,21.85],[19.39,21.81],
  [18.69,21.78],[18.73,21.75],[18.77,21.79],[18.82,21.76],[18.86,21.74],[18.90,21.78],[18.95,21.77],[18.99,21.73],
  [19.04,21.79],[19.09,21.75],[19.17,21.77],[19.23,21.74],[19.26,21.79],[19.30,21.76],[19.39,21.78],[19.47,21.74],
  [18.67,21.71],[18.71,21.68],[18.76,21.72],[18.81,21.69],[18.86,21.67],[18.89,21.71],[18.94,21.70],[18.98,21.66],
  [19.19,21.72],[19.24,21.68],[19.29,21.70],[19.37,21.67],
  [18.70,21.63],[18.75,21.60],[18.80,21.64],[18.84,21.61],[18.88,21.59],[18.92,21.63],[18.97,21.62],[19.18,21.58],
  [19.24,21.64],[19.47,21.60],
  [18.77,21.56],[18.87,21.53],[18.98,21.57],[19.02,21.54],[19.06,21.52],[19.13,21.56],[19.19,21.55],[19.26,21.51],
  [19.32,21.57],[19.37,21.53],[19.45,21.55]
];

const allGalaxies = faintOutliers.concat(galaxiesLeft, galaxiesMid, crowdedMid, galaxiesRight, crowdedRight);

const labelFont = 'Liberation Serif';
const frameColor = '#000';

function xAxisBase(position, showLabel) {
  return {
    type: 'value',
    position: position,
    min: 17,
    max: 19.5,
    interval: 0.5,
    axisLine: { show: true, onZero: false, lineStyle: { color: frameColor, width: 2 } },
    axisTick: { show: true, inside: true, length: 17, lineStyle: { color: frameColor, width: 1.5 } },
    minorTick: { show: true, splitNumber: 5, length: 9, lineStyle: { color: frameColor, width: 1.5 } },
    splitLine: { show: false },
    minorSplitLine: { show: false },
    axisLabel: {
      show: showLabel,
      margin: 12,
      color: '#333',
      fontFamily: labelFont,
      fontSize: 28
    }
  };
}

function yAxisBase(position, interval, tickLen, showLabel, showLine) {
  return {
    type: 'value',
    position: position,
    min: 20,
    max: 25.5,
    interval: interval,
    axisLine: { show: showLine, onZero: false, lineStyle: { color: frameColor, width: 2 } },
    axisTick: { show: true, inside: true, length: tickLen, lineStyle: { color: frameColor, width: 1.5 } },
    splitLine: { show: false },
    axisLabel: {
      show: showLabel,
      showMaxLabel: false,
      margin: 16,
      color: '#333',
      fontFamily: labelFont,
      fontSize: 28
    }
  };
}

const chart = echarts.init(document.getElementById('chart'), null, { renderer: 'canvas' });

const option = {
  animation: false,
  backgroundColor: '#fff',
  grid: { left: 86, right: 28, top: 2, bottom: 68 },
  xAxis: [
    xAxisBase('bottom', true),
    xAxisBase('top', false)
  ],
  yAxis: [
    yAxisBase('left', 1, 17, true, true),
    yAxisBase('left', 0.2, 9, false, false),
    yAxisBase('right', 1, 17, false, true),
    yAxisBase('right', 0.2, 9, false, false)
  ],
  graphic: [
    // x axis title: r*_Petro
    { type: 'text', x: 421, y: 558, style: { text: 'r', font: '28px "Liberation Serif"', fill: '#333', align: 'center', verticalAlign: 'middle' } },
    { type: 'text', x: 431, y: 548, style: { text: '*', font: '16px "Liberation Serif"', fill: '#333', align: 'center', verticalAlign: 'middle' } },
    { type: 'text', x: 428, y: 566, style: { text: 'Petro', font: '18px "Liberation Serif"', fill: '#333', align: 'left', verticalAlign: 'middle' } },
    // y axis title: mu_r',Petro
    { type: 'text', x: 15, y: 285, rotation: Math.PI / 2, style: { text: 'μ', font: 'italic 30px "Liberation Serif"', fill: '#333', align: 'center', verticalAlign: 'middle' } },
    { type: 'text', x: 23, y: 243, rotation: Math.PI / 2, style: { text: "r',Petro", font: '18px "Liberation Serif"', fill: '#333', align: 'center', verticalAlign: 'middle' } }
  ],
  series: [
    {
      type: 'scatter',
      xAxisIndex: 0,
      yAxisIndex: 0,
      symbol: 'rect',
      symbolSize: 5,
      itemStyle: { color: '#000' },
      data: allGalaxies,
      markLine: {
        silent: true,
        symbol: ['none', 'none'],
        label: { show: false },
        lineStyle: { color: '#f04848', width: 2, type: [30, 8] },
        data: [{ yAxis: cutLevel }]
      }
    }
  ]
};

chart.setOption(option);
</script>
</body>
</html>
